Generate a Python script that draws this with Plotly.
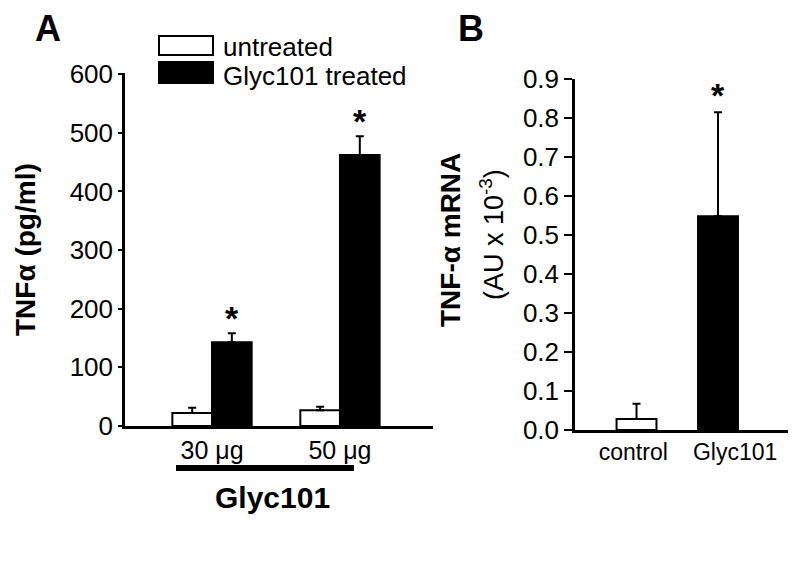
import plotly.graph_objects as go

# ---- data ----
a_categories = ["30 μg", "50 μg"]
a_untreated = [22, 27]
a_untreated_err = [9, 6]
a_treated = [143, 462]
a_treated_err = [15, 32]

b_categories = ["control", "Glyc101"]
b_values = [0.028, 0.548]
b_err = [0.039, 0.267]
b_colors = ["white", "black"]

a_yticks = [0, 100, 200, 300, 400, 500, 600]
b_yticks = [0.0, 0.1, 0.2, 0.3, 0.4, 0.5, 0.6, 0.7, 0.8, 0.9]

FONT = "Liberation Sans, Arial, sans-serif"
W, H = 800, 584
OX, OY = 8, 8  # page body margin offset of the rendered graph

def px(x):
    return (x - OX) / W

def py(y):
    return (H - (y - OY)) / H

fig = go.Figure()

aw = 0.31
fig.add_trace(go.Bar(
    x=a_categories, y=a_untreated, width=aw, offset=-aw,
    marker=dict(color="white", line=dict(color="black", width=2)),
    error_y=dict(type="data", symmetric=False, array=a_untreated_err,
                 arrayminus=[0] * len(a_untreated), color="black", thickness=2, width=4),
    xaxis="x", yaxis="y", showlegend=False, name="untreated"))
fig.add_trace(go.Bar(
    x=a_categories, y=a_treated, width=aw, offset=0,
    marker=dict(color="black", line=dict(color="black", width=2)),
    error_y=dict(type="data", symmetric=False, array=a_treated_err,
                 arrayminus=[0] * len(a_treated), color="black", thickness=2, width=4),
    xaxis="x", yaxis="y", showlegend=False, name="Glyc101 treated"))

bw = 0.49
b_pos = list(range(len(b_categories)))
b_label_shift = [-0.04, 0.21]
fig.add_trace(go.Bar(
    x=b_pos, y=b_values, width=bw,
    marker=dict(color=b_colors, line=dict(color="black", width=2)),
    error_y=dict(type="data", symmetric=False, array=b_err,
                 arrayminus=[0] * len(b_values), color="black", thickness=2, width=4),
    xaxis="x2", yaxis="y2", showlegend=False))

line_common = dict(showgrid=False, zeroline=False, linecolor="black", linewidth=2.5,
                   automargin=False, showline=True)

fig.update_layout(
    template="none",
    width=W, height=H, margin=dict(l=0, r=0, t=0, b=0, autoexpand=False),
    paper_bgcolor="white", plot_bgcolor="white", barmode="overlay",
    font=dict(family=FONT, color="black"),
    xaxis=dict(domain=[px(125), px(433)], range=[-0.68, 1.727], anchor="y",
               ticks="", tickfont=dict(family=FONT, size=25, color="black"), **line_common),
    yaxis=dict(domain=[py(426), py(73)], range=[0, 602], anchor="x",
               ticks="outside", ticklen=4, tickwidth=2, tickcolor="black",
               tickvals=a_yticks, tickfont=dict(family=FONT, size=26, color="black"), **line_common),
    xaxis2=dict(domain=[px(575), px(788)], range=[-0.755, 1.859], anchor="y2", type="linear",
                tickmode="array", tickvals=[p + s for p, s in zip(b_pos, b_label_shift)],
                ticktext=b_categories,
                ticks="", tickfont=dict(family=FONT, size=23, color="black"), **line_common),
    yaxis2=dict(domain=[py(430), py(79)], range=[0, 0.9], anchor="x2",
                ticks="outside", ticklen=8, tickwidth=2, tickcolor="black",
                tickvals=b_yticks, tickformat=".1f",
                tickfont=dict(family=FONT, size=26, color="black"), **line_common),
)

def text_ann(x, y, text, size, angle=0, xanchor="center"):
    return dict(x=x, y=y, xref="paper", yref="paper", text=text, textangle=angle,
                xanchor=xanchor, yanchor="middle", showarrow=False,
                font=dict(family=FONT, size=size, color="black"))

ann = []
# stars over treated bars (panel A)
for i, (v, e) in enumerate(zip(a_treated, a_treated_err)):
    ann.append(dict(x=i + aw / 2, y=v + e, xref="x", yref="y", text="<b>*</b>",
                    showarrow=False, xanchor="center", yanchor="bottom", yshift=-6,
                    font=dict(family=FONT, size=34, color="black")))
# star over Glyc101 bar (panel B)
ann.append(dict(x=b_pos[1], y=b_values[1] + b_err[1], xref="x2", yref="y2", text="<b>*</b>",
                showarrow=False, xanchor="center", yanchor="bottom", yshift=-4,
                font=dict(family=FONT, size=34, color="black")))
# panel letters
ann.append(text_ann(px(48), py(28), "<b>A</b>", 36))
ann.append(text_ann(px(471), py(28.5), "<b>B</b>", 36))
# y titles
ann.append(text_ann(px(25), py(250), "<b>TNFα (pg/ml)</b>", 28, -90))
ann.append(text_ann(px(450), py(240), "<b>TNF-α mRNA</b>", 28, -90))
ann.append(text_ann(px(492), py(235), "(AU x 10<sup>-3</sup>)", 27, -90))
# group label
ann.append(text_ann(px(272), py(497), "<b>Glyc101</b>", 30))
# legend text
ann.append(text_ann(px(221), py(47), "untreated", 26, xanchor="left"))
ann.append(text_ann(px(221), py(76), "Glyc101 treated", 26, xanchor="left"))

shapes = [
    dict(type="rect", xref="paper", yref="paper", x0=px(159), x1=px(213), y0=py(55), y1=py(36),
         fillcolor="white", line=dict(color="black", width=2)),
    dict(type="rect", xref="paper", yref="paper", x0=px(159), x1=px(213), y0=py(83), y1=py(62),
         fillcolor="black", line=dict(color="black", width=2)),
    dict(type="line", xref="paper", yref="paper", x0=px(176), x1=px(354), y0=py(468), y1=py(468),
         line=dict(color="black", width=6)),
]

fig.update_layout(annotations=ann, shapes=shapes)
fig.write_html("out.html")
